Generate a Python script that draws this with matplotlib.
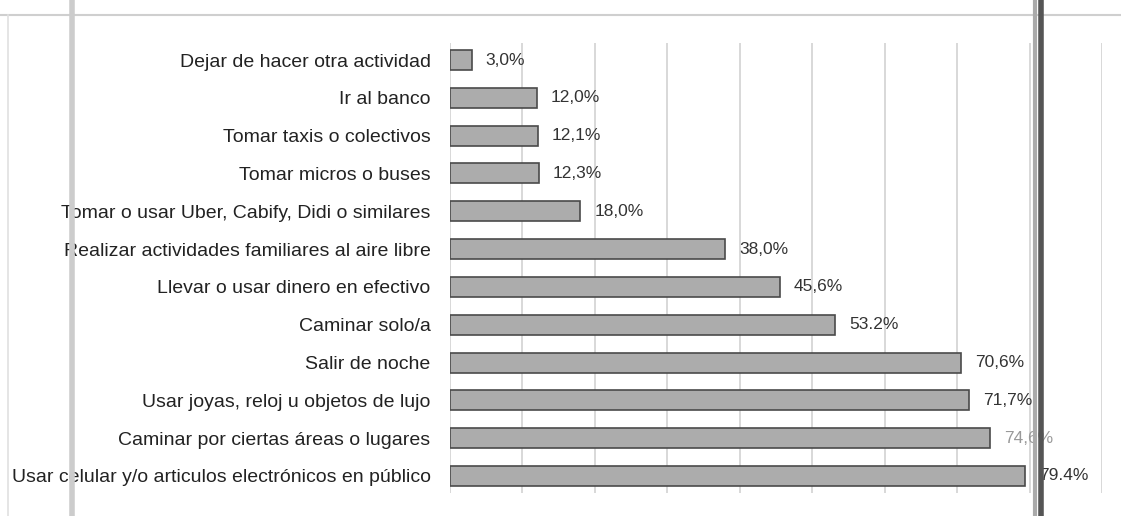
import matplotlib
matplotlib.use("Agg")
import matplotlib.pyplot as plt
from matplotlib.lines import Line2D
from matplotlib import font_manager

categories = [
    "Dejar de hacer otra actividad",
    "Ir al banco",
    "Tomar taxis o colectivos",
    "Tomar micros o buses",
    "Tomar o usar Uber, Cabify, Didi o similares",
    "Realizar actividades familiares al aire libre",
    "Llevar o usar dinero en efectivo",
    "Caminar solo/a",
    "Salir de noche",
    "Usar joyas, reloj u objetos de lujo",
    "Caminar por ciertas áreas o lugares",
    "Usar celular y/o articulos electrónicos en público",
]
values = [3.0, 12.0, 12.1, 12.3, 18.0, 38.0, 45.6, 53.2, 70.6, 71.7, 74.6, 79.4]
value_labels = ["3,0%", "12,0%", "12,1%", "12,3%", "18,0%", "38,0%",
                "45,6%", "53.2%", "70,6%", "71,7%", "74,6%", "79.4%"]
x_ticks = [0, 10, 20, 30, 40, 50, 60, 70, 80, 90]

names = {f.name for f in font_manager.fontManager.ttflist}
family = "Liberation Sans Narrow" if "Liberation Sans Narrow" in names else "Liberation Sans"
plt.rcParams["font.family"] = [family, "DejaVu Sans"]

W, H = 1121, 516
fig = plt.figure(figsize=(W / 100, H / 100), dpi=100)
fig.patch.set_facecolor("white")

left_px, right_px, top_px, bot_px = 450, 1102, 43, 493
ax = fig.add_axes([left_px / W, 1 - bot_px / H, (right_px - left_px) / W, (bot_px - top_px) / H])

y = list(range(len(categories)))
ax.barh(y, values, height=0.53, color="#acacac", edgecolor="#4a4a4a", linewidth=1.2, zorder=3)
ax.set_xlim(0, 90)
ax.set_ylim(len(categories) - 0.55, -0.45)
ax.set_xticks(x_ticks)
ax.xaxis.grid(True, color="#d6d6d6", linewidth=1.3, zorder=0)
ax.tick_params(axis="x", bottom=False, labelbottom=False)
ax.set_yticks(y)
ax.set_yticklabels(categories, fontsize=14, color="#222222")
ax.tick_params(axis="y", length=0, pad=14)
for s in ax.spines.values():
    s.set_visible(False)

for i, (v, lab) in enumerate(zip(values, value_labels)):
    col = "#999999" if i == 10 else "#333333"
    ax.text(v + 1.9, i, lab, va="center", ha="left", fontsize=12.5, color=col, zorder=4)

# scanned page frame
def fline(xs, ys, color, lw):
    fig.add_artist(Line2D([x / W for x in xs], [1 - yy / H for yy in ys], color=color, linewidth=lw,
                          transform=fig.transFigure))

fline([0, W], [15, 15], "#cfcfcf", 1.5)
fline([8, 8], [15, H], "#e0e0e0", 1.2)
fline([72, 72], [0, H], "#cccccc", 4.0)
fline([1035, 1035], [0, H], "#aaaaaa", 3.0)
fline([1041, 1041], [0, H], "#555555", 4.0)

fig.savefig("out.png", dpi=100, facecolor="white")
